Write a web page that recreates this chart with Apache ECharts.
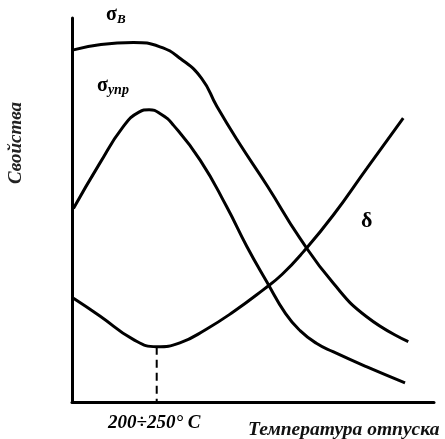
<!DOCTYPE html>
<html>
<head>
<meta charset="utf-8">
<script src="https://cdn.jsdelivr.net/npm/echarts@6/dist/echarts.min.js"></script>
<style>html,body{margin:0;padding:0;background:#fff}#c{width:445px;height:439px}</style>
</head>
<body>
<div id="c"></div>
<script>
// Abstract scales: x = tempering temperature (0-100), y = property level (0-100)
const sigmaB = [[0.4,91.7],[8,93.1],[17,93.6],[24.3,92.5],[30,89.4],[35.8,84.3],[40,77.0],[46,67.7],[54,56.2],[63,42.6],[72.2,30.9],[81.4,22.2],[92.9,15.7]];
const sigmaUpr = [[0.4,50.4],[7.7,62.2],[14,71.5],[18.5,75.5],[21.3,76.1],[24.5,75.0],[28,72.1],[35.4,63.0],[42.7,50.9],[48.3,40.5],[53.8,31.3],[59,23.0],[63,18.6],[67.5,15.3],[72.1,13.1],[81.3,9.2],[92,5.0]];
const delta = [[0.4,27.0],[7.7,22.4],[16.9,16.3],[23.4,14.4],[29.8,15.4],[37,18.9],[44.6,23.5],[52.8,29.2],[58,33.2],[63.9,39.1],[72.2,48.7],[81.4,60.8],[91.5,73.9]];
const markX = 23.4;
const markY = 14.4;
const xLabel = '200÷250° C';
const xName = 'Температура отпуска';
const yName = 'Свойства';

const font = 'Liberation Serif';
const chart = echarts.init(document.getElementById('c'));
const lineSeries = (data) => ({
  type: 'line', data: data, smooth: 0.5, showSymbol: false, symbol: 'none',
  lineStyle: {color: '#000', width: 3}, silent: true, animation: false
});
chart.setOption({
  animation: false,
  grid: {left: 72, right: 11, top: 18, bottom: 37},
  xAxis: {type: 'value', min: 0, max: 100,
    axisLine: {lineStyle: {color: '#000', width: 3}},
    axisTick: {show: false}, axisLabel: {show: false}, splitLine: {show: false}},
  yAxis: {type: 'value', min: 0, max: 100,
    axisLine: {show: true, lineStyle: {color: '#000', width: 3}},
    axisTick: {show: false}, axisLabel: {show: false}, splitLine: {show: false}},
  series: [
    lineSeries(sigmaB), lineSeries(sigmaUpr), lineSeries(delta),
    {type: 'line', data: [[markX, markY], [markX, 0]], showSymbol: false, symbol: 'none',
     lineStyle: {color: '#000', width: 2, type: [8, 5]}, silent: true}
  ],
  graphic: [
    {type: 'text', left: 106, top: 5, style: {
      text: '{a|σ}{b|В}', font: 'bold 20px ' + font,
      rich: {a: {fontFamily: font, fontWeight: 'bold', fontSize: 20, fill: '#000'},
             b: {fontFamily: font, fontWeight: 'bold', fontStyle: 'italic', fontSize: 13, fill: '#000', padding: [9, 0, 0, 0]}}}},
    {type: 'text', left: 97, top: 76, style: {
      text: '{a|σ}{b|упр}', font: 'bold 20px ' + font,
      rich: {a: {fontFamily: font, fontWeight: 'bold', fontSize: 20, fill: '#000'},
             b: {fontFamily: font, fontWeight: 'bold', fontStyle: 'italic', fontSize: 14, fill: '#000', padding: [9, 0, 0, 0]}}}},
    {type: 'text', left: 361, top: 210, style: {text: 'δ', font: 'bold 22px ' + font, fill: '#000'}},
    {type: 'text', left: 108, top: 414, style: {text: xLabel, font: 'italic bold 19px ' + font, fill: '#000'}},
    {type: 'text', left: 248, top: 420, style: {text: xName, font: 'italic bold 19.5px ' + font, fill: '#111'}},
    {type: 'text', x: 16, y: 143, rotation: Math.PI / 2, style: {text: yName, font: 'italic bold 19px ' + font, fill: '#222', align: 'center', verticalAlign: 'middle'}}
  ]
});
</script>
</body>
</html>
